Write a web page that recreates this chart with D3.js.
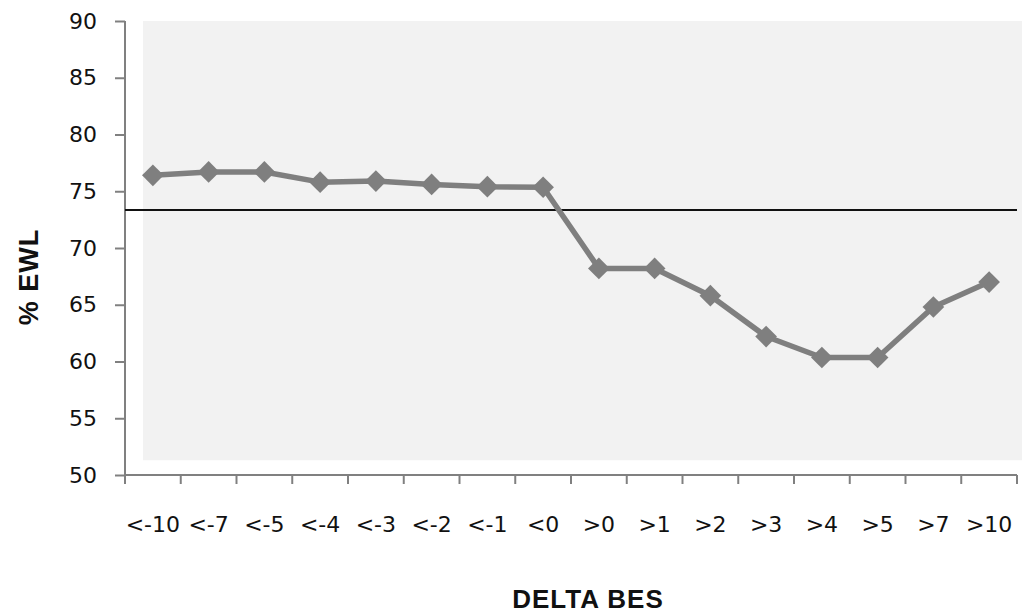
<!DOCTYPE html>
<html lang="en">
<head>
<meta charset="utf-8">
<title>% EWL by Delta BES</title>
<script src="https://cdn.jsdelivr.net/npm/d3@7"></script>
<style>
  body { margin: 0; background: #fff; }
  svg { display: block; }
  .tick text { font-family: "DejaVu Sans", Verdana, sans-serif; font-size: 22px; fill: #111; }
  .axis path, .axis line { stroke: #808080; stroke-width: 2px; }
  .title { font-family: "Liberation Sans", Arial, sans-serif; font-weight: bold; fill: #111; letter-spacing: 1px; }
</style>
</head>
<body>
<script>
  var w = 1030;
  var h = 613;

  // data
  var categories = ["<-10", "<-7", "<-5", "<-4", "<-3", "<-2", "<-1", "<0",
                    ">0", ">1", ">2", ">3", ">4", ">5", ">7", ">10"];
  var ewl = [76.4, 76.7, 76.7, 75.8, 75.9, 75.6, 75.4, 75.35,
             68.2, 68.2, 65.8, 62.2, 60.35, 60.35, 64.8, 67.0];
  var refValue = 73.35;
  var yTicks = [50, 55, 60, 65, 70, 75, 80, 85, 90];

  var plotLeft = 125, plotRight = 1017, plotTop = 21, plotBottom = 475;

  var svg = d3.select("body").append("svg")
              .attr("width", w)
              .attr("height", h);

  var x = d3.scaleBand().domain(categories).range([plotLeft, plotRight]);
  var y = d3.scaleLinear().domain([50, 90]).range([plotBottom, plotTop]);

  // plot background (stops short of the axes like the original)
  svg.append("rect")
     .attr("x", plotLeft + 18)
     .attr("y", plotTop)
     .attr("width", 1022 - (plotLeft + 18))
     .attr("height", y(51.3) - plotTop)
     .attr("fill", "#f2f2f2");

  // y axis
  svg.append("g")
     .attr("class", "axis")
     .attr("transform", "translate(" + plotLeft + ",0)")
     .call(d3.axisLeft(y).tickValues(yTicks).tickSize(10).tickPadding(18))
     .call(function(g) { g.select(".domain").attr("d", "M0," + plotTop + "V" + plotBottom); });

  // x axis: ticks sit on band edges
  var xAxis = svg.append("g")
     .attr("class", "axis")
     .attr("transform", "translate(0," + plotBottom + ")");
  xAxis.append("path")
       .attr("d", "M" + plotLeft + ",0H" + plotRight)
       .attr("fill", "none");
  var edges = categories.map(function(c) { return x(c); }).concat([plotRight]);
  xAxis.selectAll("line.edge")
       .data(edges)
       .enter()
       .append("line")
       .attr("class", "edge")
       .attr("x1", function(d) { return d; })
       .attr("x2", function(d) { return d; })
       .attr("y1", 0)
       .attr("y2", 9);
  xAxis.selectAll("g.tick")
       .data(categories)
       .enter()
       .append("g")
       .attr("class", "tick")
       .append("text")
       .attr("x", function(d) { return x(d) + x.bandwidth() / 2; })
       .attr("y", 57)
       .attr("text-anchor", "middle")
       .text(function(d) { return d; });

  // reference line
  svg.append("line")
     .attr("x1", plotLeft)
     .attr("x2", plotRight)
     .attr("y1", y(refValue))
     .attr("y2", y(refValue))
     .attr("stroke", "#111")
     .attr("stroke-width", 2);

  // series line
  var line = d3.line()
               .x(function(d, i) { return x(categories[i]) + x.bandwidth() / 2; })
               .y(function(d) { return y(d); });

  svg.append("path")
     .datum(ewl)
     .attr("d", line)
     .attr("fill", "none")
     .attr("stroke", "#7f7f7f")
     .attr("stroke-width", 5.5)
     .attr("stroke-linejoin", "round");

  svg.selectAll("path.marker")
     .data(ewl)
     .enter()
     .append("path")
     .attr("class", "marker")
     .attr("d", d3.symbol().type(d3.symbolDiamond2).size(300))
     .attr("transform", function(d, i) {
        return "translate(" + (x(categories[i]) + x.bandwidth() / 2) + "," + y(d) + ")";
     })
     .attr("fill", "#7f7f7f");

  // axis titles
  svg.append("text")
     .attr("class", "title")
     .attr("x", 588)
     .attr("y", 608)
     .attr("font-size", 26)
     .attr("text-anchor", "middle")
     .text("DELTA BES");

  svg.append("text")
     .attr("class", "title")
     .attr("transform", "translate(38,277) rotate(-90)")
     .attr("font-size", 27)
     .attr("text-anchor", "middle")
     .text("% EWL");
</script>
</body>
</html>
